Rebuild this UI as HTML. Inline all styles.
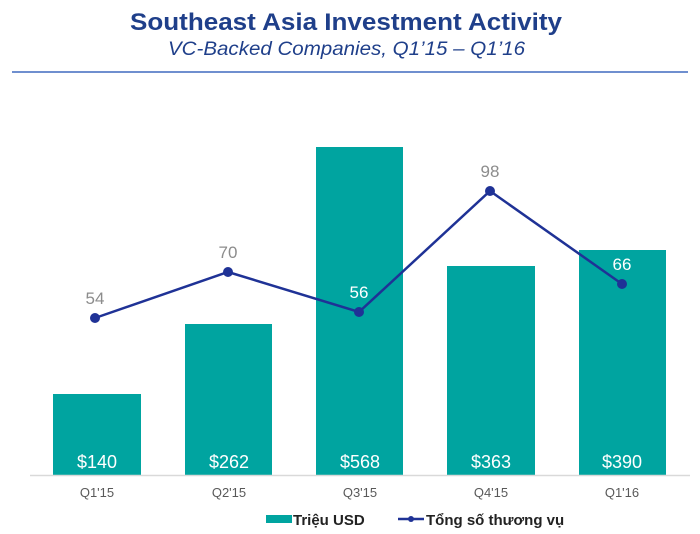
<!DOCTYPE html>
<html><head><meta charset="utf-8"><style>
body{margin:0;background:#fff;}
svg{display:block;font-family:"Liberation Sans",sans-serif;}
</style></head><body>
<svg width="700" height="534" viewBox="0 0 700 534">
<text x="130" y="30" font-size="24" font-weight="bold" fill="#1f3f8a" textLength="432" lengthAdjust="spacingAndGlyphs">Southeast Asia Investment Activity</text>
<text x="168" y="55" font-size="19" font-style="italic" fill="#1f3f8a" textLength="357" lengthAdjust="spacingAndGlyphs">VC-Backed Companies, Q1’15 – Q1’16</text>
<line x1="12" y1="72" x2="688" y2="72" stroke="#6f8fcf" stroke-width="2"/>
<g fill="#00a4a0">
<rect x="53" y="394" width="88" height="81"/>
<rect x="185" y="324" width="87" height="151"/>
<rect x="316" y="147" width="87" height="328"/>
<rect x="447" y="266" width="88" height="209"/>
<rect x="579" y="250" width="87" height="225"/>
</g>
<line x1="30" y1="475.5" x2="690" y2="475.5" stroke="#d9d9d9" stroke-width="1.5"/>
<g font-size="18" fill="#fff" text-anchor="middle">
<text x="97" y="468">$140</text><text x="229" y="468">$262</text><text x="360" y="468">$568</text><text x="491" y="468">$363</text><text x="622" y="468">$390</text>
</g>
<polyline points="95,318 228,272 359,312 490,191 622,284" fill="none" stroke="#1f3296" stroke-width="2.5"/>
<g fill="#1f3296"><circle cx="95" cy="318" r="5"/><circle cx="228" cy="272" r="5"/><circle cx="359" cy="312" r="5"/><circle cx="490" cy="191" r="5"/><circle cx="622" cy="284" r="5"/></g>
<g font-size="17" text-anchor="middle">
<text x="95" y="304" fill="#8c8c8c">54</text><text x="228" y="258" fill="#8c8c8c">70</text><text x="359" y="298" fill="#fff">56</text><text x="490" y="177" fill="#8c8c8c">98</text><text x="622" y="270" fill="#fff">66</text>
</g>
<g font-size="13" fill="#595959" text-anchor="middle">
<text x="97" y="497">Q1'15</text><text x="229" y="497">Q2'15</text><text x="360" y="497">Q3'15</text><text x="491" y="497">Q4'15</text><text x="622" y="497">Q1'16</text>
</g>
<rect x="266" y="515" width="26" height="8" fill="#00a4a0"/>
<text x="293" y="525" font-size="15" font-weight="bold" fill="#222">Triệu USD</text>
<line x1="398" y1="519" x2="424" y2="519" stroke="#1f3296" stroke-width="2.5"/>
<circle cx="411" cy="519" r="3" fill="#1f3296"/>
<text x="426" y="525" font-size="15" font-weight="bold" fill="#222">Tổng số thương vụ</text>
</svg>
</body></html>
